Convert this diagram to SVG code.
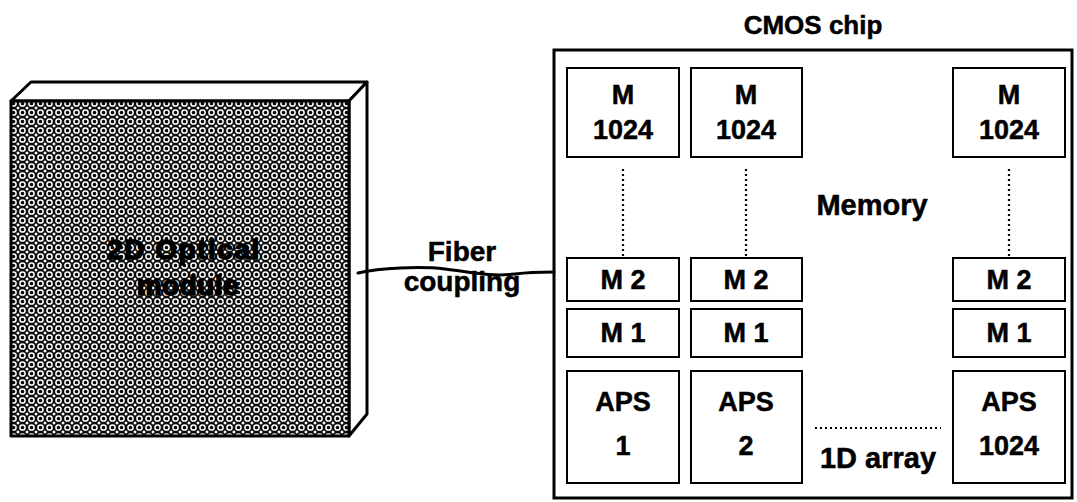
<svg xmlns="http://www.w3.org/2000/svg" width="1077" height="502" viewBox="0 0 1077 502">
  <style>
    .lbl { font-family: "Liberation Sans", Arial, sans-serif; font-weight: bold; fill: #000; text-anchor: middle; stroke: #000; stroke-width: 0.5; }
    .heavy { stroke-width: 1.4; }
    .cell { fill: #fff; stroke: #000; stroke-width: 2; }
    .cell-txt { font-size: 27px; }
    .dots { fill: none; stroke: #000; stroke-width: 2.2; stroke-dasharray: 2 3; }
    .edge { stroke: #000; stroke-width: 3; stroke-linejoin: round; }
  </style>
  <defs>
    <!-- halftone texture of the optical module face: white rings on a dark mesh -->
    <pattern id="halftone" width="9" height="9" patternUnits="userSpaceOnUse">
      <rect width="9" height="9" fill="#0d0d0d"/>
      <circle cx="4.5" cy="4.5" r="2.6" fill="none" stroke="#fff" stroke-width="1.5"/>
      <path d="M0,-1.8 L1.8,0 L0,1.8 L-1.8,0 Z M9,-1.8 L10.8,0 L9,1.8 L7.2,0 Z M0,7.2 L1.8,9 L0,10.8 L-1.8,9 Z M9,7.2 L10.8,9 L9,10.8 L7.2,9 Z" fill="#fff"/>
    </pattern>
  </defs>
  <rect width="1077" height="502" fill="#fff"/>

  <!-- 2D optical module block -->
  <g id="optical-module">
    <polygon class="edge" fill="#fff" points="11,101 31,82 367,82 349,101"/>
    <polygon class="edge" fill="#fff" points="349,101 367,82 367,414 349,436"/>
    <rect class="edge" x="11" y="101" width="338" height="335" fill="url(#halftone)"/>
    <text class="lbl heavy" x="184" y="259" font-size="28" letter-spacing="1.5">2D Optical</text>
    <text class="lbl heavy" x="188" y="295" font-size="28" letter-spacing="0.5">module</text>
  </g>

  <!-- chip outline and title -->
  <g id="cmos-chip">
    <text class="lbl" x="813" y="34" font-size="26">CMOS chip</text>
    <rect x="554" y="50" width="518" height="448" fill="#fff" stroke="#000" stroke-width="3"/>
    <text class="lbl" x="872" y="215" font-size="29">Memory</text>
    <text class="lbl" x="878" y="468" font-size="29">1D array</text>
  </g>

  <!-- column 1 -->
  <g id="col1">
    <rect class="cell" x="567" y="68" width="112" height="89"/>
    <text class="lbl cell-txt" x="623" y="104">M</text>
    <text class="lbl cell-txt" x="623" y="139">1024</text>
    <rect class="cell" x="567" y="258" width="112" height="43"/>
    <text class="lbl cell-txt" x="623" y="289">M 2</text>
    <rect class="cell" x="567" y="309" width="112" height="48"/>
    <text class="lbl cell-txt" x="623" y="342">M 1</text>
    <rect class="cell" x="567" y="371" width="112" height="112"/>
    <text class="lbl cell-txt" x="623" y="411">APS</text>
    <text class="lbl cell-txt" x="623" y="455">1</text>
  </g>

  <!-- column 2 -->
  <g id="col2">
    <rect class="cell" x="691" y="68" width="111" height="89"/>
    <text class="lbl cell-txt" x="746" y="104">M</text>
    <text class="lbl cell-txt" x="746" y="139">1024</text>
    <rect class="cell" x="691" y="258" width="111" height="43"/>
    <text class="lbl cell-txt" x="746" y="289">M 2</text>
    <rect class="cell" x="691" y="309" width="111" height="48"/>
    <text class="lbl cell-txt" x="746" y="342">M 1</text>
    <rect class="cell" x="691" y="371" width="111" height="112"/>
    <text class="lbl cell-txt" x="746" y="411">APS</text>
    <text class="lbl cell-txt" x="746" y="455">2</text>
  </g>

  <!-- column 1024 -->
  <g id="col1024">
    <rect class="cell" x="953" y="68" width="112" height="89"/>
    <text class="lbl cell-txt" x="1009" y="104">M</text>
    <text class="lbl cell-txt" x="1009" y="139">1024</text>
    <rect class="cell" x="953" y="258" width="112" height="43"/>
    <text class="lbl cell-txt" x="1009" y="289">M 2</text>
    <rect class="cell" x="953" y="309" width="112" height="48"/>
    <text class="lbl cell-txt" x="1009" y="342">M 1</text>
    <rect class="cell" x="953" y="371" width="112" height="112"/>
    <text class="lbl cell-txt" x="1009" y="411">APS</text>
    <text class="lbl cell-txt" x="1009" y="455">1024</text>
  </g>

  <!-- fiber link and dotted continuation lines -->
  <g id="connectors">
    <path d="M358,273 C380,268 420,266 445,269 C470,272 490,277 515,274 C530,272 545,272 554,272" fill="none" stroke="#000" stroke-width="3" stroke-linecap="round"/>
    <line class="dots" x1="623" y1="169" x2="623" y2="256"/>
    <line class="dots" x1="746" y1="169" x2="746" y2="256"/>
    <line class="dots" x1="1009" y1="169" x2="1009" y2="256"/>
    <line class="dots" x1="815" y1="428" x2="941" y2="428"/>
  </g>
  <g id="fiber-label">
    <text class="lbl" x="462" y="261" font-size="28">Fiber</text>
    <text class="lbl" x="462" y="291" font-size="28">coupling</text>
  </g>
</svg>
